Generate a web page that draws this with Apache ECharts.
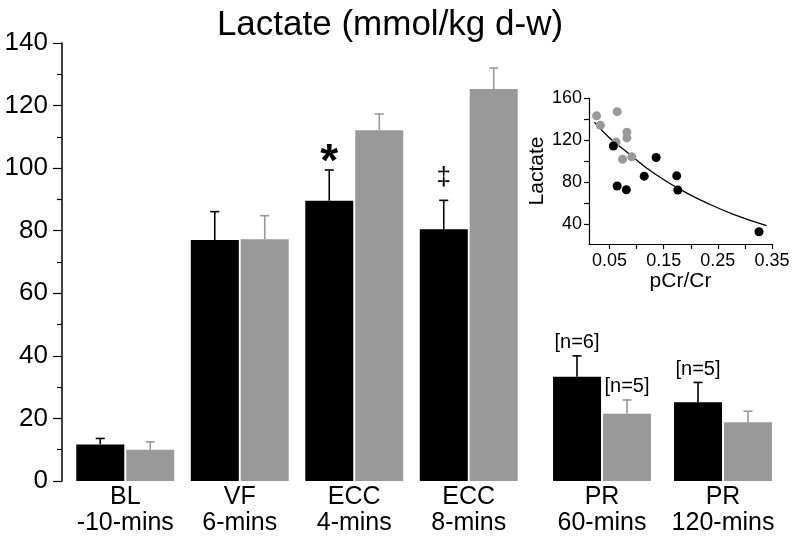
<!DOCTYPE html>
<html><head><meta charset="utf-8">
<script src="https://cdn.jsdelivr.net/npm/echarts@6/dist/echarts.min.js"></script>
<style>html,body{margin:0;padding:0;background:#fff}#c{width:800px;height:541px}</style>
</head><body><div id="c"></div>
<script>
// ---- data ----
const mainCats = ['BL\n-10-mins', 'VF\n6-mins', 'ECC\n4-mins', 'ECC\n8-mins'];
const prCats = ['PR\n60-mins', 'PR\n120-mins'];
const mainBlack = [11.7, 77.0, 89.6, 80.5];
const mainBlackSE = [1.9, 9.1, 9.8, 9.2];
const mainGray = [10.0, 77.3, 112.1, 125.3];
const mainGraySE = [2.5, 7.5, 5.2, 6.7];
const prBlack = [33.3, 25.2];
const prBlackSE = [6.7, 6.3];
const prGray = [21.5, 18.8];
const prGraySE = [4.4, 3.5];
const mainBlackNotes = ['', '', '*', '\u2021'];
const mainGrayNotes = ['', '', '', ''];
const prBlackNotes = ['[n=6]', '[n=5]'];
const prGrayNotes = ['[n=5]', ''];
const yTicksMain = [0, 20, 40, 60, 80, 100, 120, 140];

const scatterGray = [[0.026,143],[0.033,134],[0.064,147],[0.062,118],[0.082,127.5],[0.082,122],[0.074,101.7],[0.091,104]];
const scatterBlack = [[0.057,114.3],[0.064,76.2],[0.081,72.7],[0.114,85.6],[0.136,103.3],[0.174,85.9],[0.176,72.4],[0.326,32.7]];
const fitCurve = [[0.022,137],[0.05,122],[0.088,106],[0.13,89],[0.18,73],[0.23,60],[0.28,49],[0.34,38.5]];
const insetXLabels = [0.05, 0.15, 0.25, 0.35];
const insetXTicks = [0.05, 0.10, 0.15, 0.20, 0.25, 0.30, 0.35];
const insetYLabels = [40, 80, 120, 160];
const insetYTicks = [40, 60, 80, 100, 120, 140, 160];

const FONT = 'Liberation Sans, Arial, Helvetica, sans-serif';
const BLACK = '#000000', GRAY = '#999999';

function errSeries(xi, means, ses, notes, color, side) {
  return {
    type: 'custom', xAxisIndex: xi, yAxisIndex: xi, z: 5,
    data: means.map((m, i) => [i, m, m + ses[i]]),
    renderItem: function (params, api) {
      const i = api.value(0), m = api.value(1), t = api.value(2);
      const p0 = api.coord([i, m]), p1 = api.coord([i, t]);
      const x = p0[0] + side * 25;
      const children = [
        {type: 'line', shape: {x1: x, y1: p0[1], x2: x, y2: p1[1]}, style: {stroke: color, lineWidth: 1.6}},
        {type: 'line', shape: {x1: x - 4.5, y1: p1[1], x2: x + 4.5, y2: p1[1]}, style: {stroke: color, lineWidth: 1.6}}
      ];
      const note = notes[params.dataIndex];
      if (note) {
        let fs = 20, gap = 3, fw = 'normal';
        if (note === '*') { fs = 46; gap = -16; fw = 'bold'; }
        if (note === '\u2021') { fs = 26; gap = 10; }
        children.push({type: 'text', style: {text: note, x: x, y: p1[1] - gap, align: 'center', verticalAlign: 'bottom', fontSize: fs, fontWeight: fw, fontFamily: FONT, fill: '#000'}});
      }
      return {type: 'group', children: children};
    }
  };
}

const catLabel = {fontSize: 25, color: '#000', lineHeight: 26, margin: 3, fontFamily: FONT, interval: 0};

const option = {
  animation: false,
  textStyle: {fontFamily: FONT},
  title: {text: 'Lactate (mmol/kg d-w)', left: 385, textAlign: 'center', top: 3,
    textStyle: {fontSize: 35, fontWeight: 'normal', color: '#000', fontFamily: FONT}},
  grid: [
    {left: 68, top: 43, width: 458, height: 438},
    {left: 541.5, top: 43, width: 242, height: 438},
    {left: 589, top: 98, width: 183, height: 146}
  ],
  xAxis: [
    {gridIndex: 0, type: 'category', data: mainCats, axisLine: {show: false}, axisTick: {show: false}, axisLabel: catLabel},
    {gridIndex: 1, type: 'category', data: prCats, axisLine: {show: false}, axisTick: {show: false}, axisLabel: catLabel},
    {gridIndex: 2, type: 'value', min: 0.012, max: 0.35,
      axisLine: {show: true, lineStyle: {color: '#000', width: 1.2}},
      axisTick: {show: true, length: 5, customValues: insetXTicks, lineStyle: {color: '#000', width: 1.2}},
      axisLabel: {customValues: insetXLabels, fontSize: 18, color: '#000', margin: 8, formatter: v => v.toFixed(2)},
      splitLine: {show: false},
      name: 'pCr/Cr', nameLocation: 'middle', nameGap: 25, nameTextStyle: {fontSize: 21, color: '#000'}}
  ],
  yAxis: [
    {gridIndex: 0, type: 'value', min: 0, max: 140, interval: 20, offset: 6,
      axisLine: {show: true, lineStyle: {color: '#000', width: 1.5}},
      axisTick: {show: true, length: 9, lineStyle: {color: '#000', width: 1.2}},
      minorTick: {show: true, splitNumber: 2, length: 5, lineStyle: {color: '#000', width: 1.2}},
      axisLabel: {fontSize: 26, color: '#000', margin: 14, customValues: yTicksMain},
      splitLine: {show: false}},
    {gridIndex: 1, type: 'value', min: 0, max: 140, show: false},
    {gridIndex: 2, type: 'value', min: 21, max: 160,
      axisLine: {show: true, lineStyle: {color: '#000', width: 1.2}},
      axisTick: {show: true, length: 5, customValues: insetYTicks, lineStyle: {color: '#000', width: 1.2}},
      axisLabel: {customValues: insetYLabels, fontSize: 18, color: '#000', margin: 7},
      splitLine: {show: false},
      name: 'Lactate', nameLocation: 'middle', nameGap: 40, nameRotate: 90, nameTextStyle: {fontSize: 21, color: '#000'}}
  ],
  series: [
    {type: 'bar', xAxisIndex: 0, yAxisIndex: 0, data: mainBlack, barWidth: 48, barGap: '4%', itemStyle: {color: BLACK}},
    {type: 'bar', xAxisIndex: 0, yAxisIndex: 0, data: mainGray, barWidth: 48, barGap: '4%', itemStyle: {color: GRAY}},
    {type: 'bar', xAxisIndex: 1, yAxisIndex: 1, data: prBlack, barWidth: 48, barGap: '4%', itemStyle: {color: BLACK}},
    {type: 'bar', xAxisIndex: 1, yAxisIndex: 1, data: prGray, barWidth: 48, barGap: '4%', itemStyle: {color: GRAY}},
    errSeries(0, mainBlack, mainBlackSE, mainBlackNotes, BLACK, -1),
    errSeries(0, mainGray, mainGraySE, mainGrayNotes, GRAY, 1),
    errSeries(1, prBlack, prBlackSE, prBlackNotes, BLACK, -1),
    errSeries(1, prGray, prGraySE, prGrayNotes, GRAY, 1),
    {type: 'line', xAxisIndex: 2, yAxisIndex: 2, data: fitCurve, smooth: true, showSymbol: false, lineStyle: {color: '#000', width: 1.3}, z: 3},
    {type: 'scatter', xAxisIndex: 2, yAxisIndex: 2, data: scatterGray, symbolSize: 9, itemStyle: {color: GRAY, opacity: 1}, z: 4},
    {type: 'scatter', xAxisIndex: 2, yAxisIndex: 2, data: scatterBlack, symbolSize: 9, itemStyle: {color: BLACK, opacity: 1}, z: 5}
  ]
};
const chart = echarts.init(document.getElementById('c'), null, {renderer: 'canvas'});
chart.setOption(option);
</script></body></html>
